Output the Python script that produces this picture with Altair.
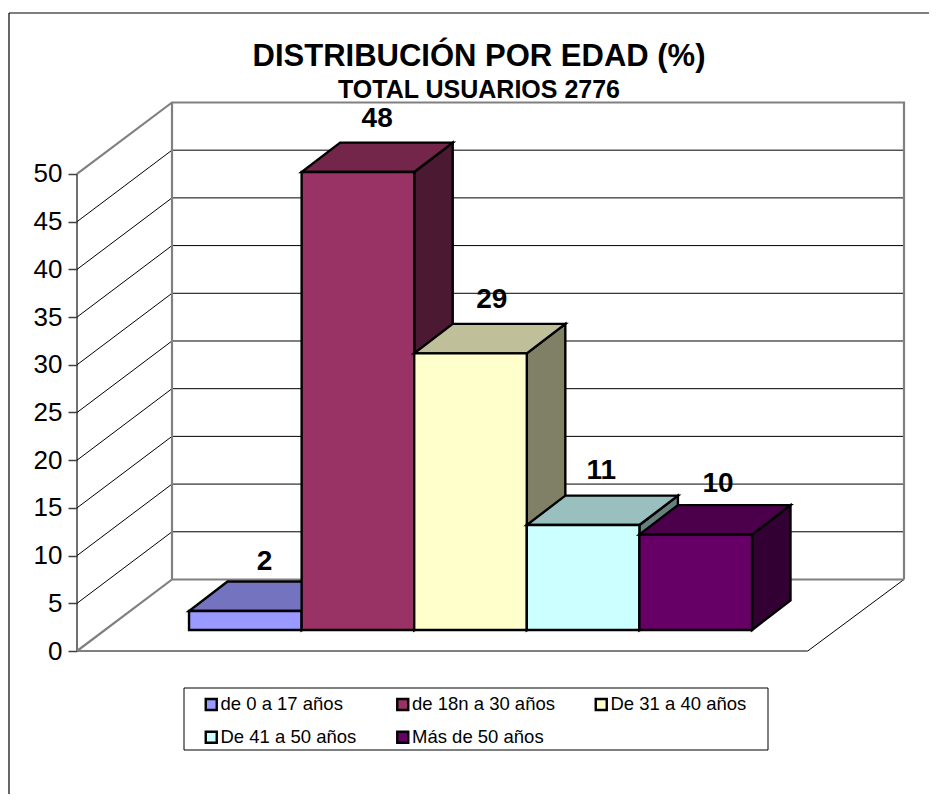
import altair as alt
import pandas as pd

title_text = "DISTRIBUCIÓN POR EDAD (%)"
subtitle_text = "TOTAL USUARIOS 2776"
categories = ["de 0 a 17 años", "de 18n a 30 años", "De 31 a 40 años", "De 41 a 50 años", "Más de 50 años"]
values = [2, 48, 29, 11, 10]
front_colors = ["#9999FF", "#993366", "#FFFFCC", "#CCFFFF", "#660066"]
top_colors = ["#7373BF", "#732649", "#BFBF99", "#99BFBF", "#4C004C"]
side_colors = ["#4C4C80", "#4C1933", "#808066", "#668080", "#330033"]
ticks = list(range(0, 55, 5))
FONT = "Liberation Sans"

# scale extents and 3-D projection, all in chart units (one x unit = a bar's width)
W, H = 827, 548
X_MAX, Y_MAX = 7.345, 57.44
WALL_DX, WALL_DY = 0.8437, 7.495      # depth of the floor
BAR_DX, BAR_DY = 0.342, 3.09          # depth of a bar
BASE = 2.2                            # height of the bars' front base on screen
FLOOR_X = 6.49                        # end of the floor's front edge
BAR_X0 = 0.995

xs = alt.Scale(domain=[0, X_MAX], nice=False, zero=False)
ys = alt.Scale(domain=[0, Y_MAX], nice=False, zero=False)
y_axis = alt.Axis(
    values=ticks, domain=False, grid=False, title=None, tickColor="#404040", tickSize=9, tickWidth=1.5,
    labelFont=FONT, labelFontSize=26, labelColor="#000000", labelPadding=6)
X = alt.X("x:Q", scale=xs, axis=None, stack=None)
Y = alt.Y("y:Q", scale=ys, axis=y_axis, stack=None)


def polylines(rows, color, width):
    df = pd.DataFrame(rows, columns=["g", "k", "x", "y"])
    return alt.Chart(df).mark_line(color=color, strokeWidth=width).encode(
        x=X, y=Y, detail="g:N", order="k:Q")


# thin grid lines on the left and back wall
grid_rows = []
for v in ticks[1:-1]:
    grid_rows += [(v, 0, 0, v), (v, 1, WALL_DX, v + WALL_DY), (v, 2, X_MAX, v + WALL_DY)]
grid_rows += [("front", 0, 0, 0), ("front", 1, FLOOR_X, 0)]
grid_rows += [("edge", 0, FLOOR_X, 0), ("edge", 1, X_MAX, WALL_DY)]
grid = polylines(grid_rows, "#000000", 1)

top_y = 50 + WALL_DY
frame_rows = [
    ("top", 0, 0, 50), ("top", 1, WALL_DX, top_y), ("top", 2, X_MAX, top_y), ("top", 3, X_MAX, WALL_DY),
    ("bottom", 0, 0, 0), ("bottom", 1, WALL_DX, WALL_DY), ("bottom", 2, X_MAX, WALL_DY),
    ("corner", 0, WALL_DX, WALL_DY), ("corner", 1, WALL_DX, top_y),
]
frame = polylines(frame_rows, "#808080", 2.2)

# value axis with its own line
axis_df = pd.DataFrame({"y": [0], "y2": [50], "x": [0]})
axis_line = alt.Chart(axis_df).mark_rule(color="#404040", strokeWidth=1.5).encode(x=X, y=Y, y2="y2:Q")

one = pd.DataFrame({"a": [0]})
# outer frame of the picture and legend box
outer = alt.Chart(one).mark_rule(color="#000000", strokeWidth=1.2).encode(
    x=alt.value(-68), y=alt.value(-90), y2=alt.value(691))
outer_top = alt.Chart(one).mark_rule(color="#000000", strokeWidth=1.2).encode(
    x=alt.value(-68), x2=alt.value(852), y=alt.value(-90))
legend_box = alt.Chart(one).mark_rect(fill="#FFFFFF", stroke="#000000", strokeWidth=1).encode(
    x=alt.value(107), x2=alt.value(691), y=alt.value(585), y2=alt.value(647))

title_mark = alt.Chart(one).mark_text(
    font=FONT, fontSize=31, fontWeight="bold", color="#000000", align="center", baseline="middle"
).encode(x=alt.value(402), y=alt.value(-46), text=alt.value(title_text))
subtitle_mark = alt.Chart(one).mark_text(
    font=FONT, fontSize=25, fontWeight="bold", color="#000000", align="center", baseline="middle"
).encode(x=alt.value(402), y=alt.value(-13), text=alt.value(subtitle_text))

color = alt.Color(
    "cat:N",
    scale=alt.Scale(domain=categories, range=front_colors),
    legend=alt.Legend(
        title=None, orient="none", legendX=125, legendY=592, columns=3, direction="horizontal",
        symbolType="square", symbolSize=121, symbolStrokeColor="#000000", symbolStrokeWidth=2.4,
        labelFont=FONT, labelFontSize=18.5, labelColor="#000000", labelOffset=0, labelLimit=300,
        columnPadding=34.5, rowPadding=11, padding=0,
    ),
)

bars = []
stroke = {"stroke": "#000000", "strokeWidth": 2.4, "strokeJoin": "miter"}
for i, (cat, v) in enumerate(zip(categories, values)):
    x0 = BAR_X0 + i
    x1 = x0 + 1
    y0 = BASE
    y1 = BASE + v
    side = pd.DataFrame({"x": [x1, x1 + BAR_DX], "y": [y0, y0 + BAR_DY], "y2": [y1, y1 + BAR_DY]})
    top = pd.DataFrame({"y": [y1, y1 + BAR_DY], "x": [x0, x0 + BAR_DX], "x2": [x1, x1 + BAR_DX]})
    front = pd.DataFrame({"x": [x0], "x2": [x1], "y": [y0], "y2": [y1], "cat": [cat]})
    bars.append(alt.Chart(side).mark_area(fill=side_colors[i], **stroke).encode(x=X, y=Y, y2="y2:Q"))
    bars.append(alt.Chart(top).mark_area(fill=top_colors[i], orient="horizontal", **stroke).encode(y=Y, x=X, x2="x2:Q"))
    bars.append(alt.Chart(front).mark_rect(**stroke).encode(x=X, x2="x2:Q", y=Y, y2="y2:Q", color=color))

# value labels sit above each bar; the original placed each one slightly by hand
LABEL_NUDGE = [(0, 6), (0, 1), (2, 1), (-1, 0), (3, 4)]
labels = []
for i, v in enumerate(values):
    row = pd.DataFrame({"x": [BAR_X0 + i + 0.5 + BAR_DX / 2], "y": [BASE + v + BAR_DY], "label": [str(v)]})
    ndx, ndy = LABEL_NUDGE[i]
    labels.append(alt.Chart(row).mark_text(
        font=FONT, fontSize=28, fontWeight="bold", color="#000000", baseline="middle", align="center",
        dx=ndx, dy=-25 + ndy,
    ).encode(x=X, y=Y, text="label:N"))

chart = alt.layer(outer, outer_top, title_mark, subtitle_mark, axis_line, grid, frame, legend_box, *bars, *labels).properties(
    width=W, height=H,
    padding={"left": 69, "top": 95, "right": 25, "bottom": 143},
    autosize=alt.AutoSizeParams(type="none"),
    background="#FFFFFF",
).configure_view(stroke=None)

chart.save("out.html", embed_options={"renderer": "svg", "actions": False})
